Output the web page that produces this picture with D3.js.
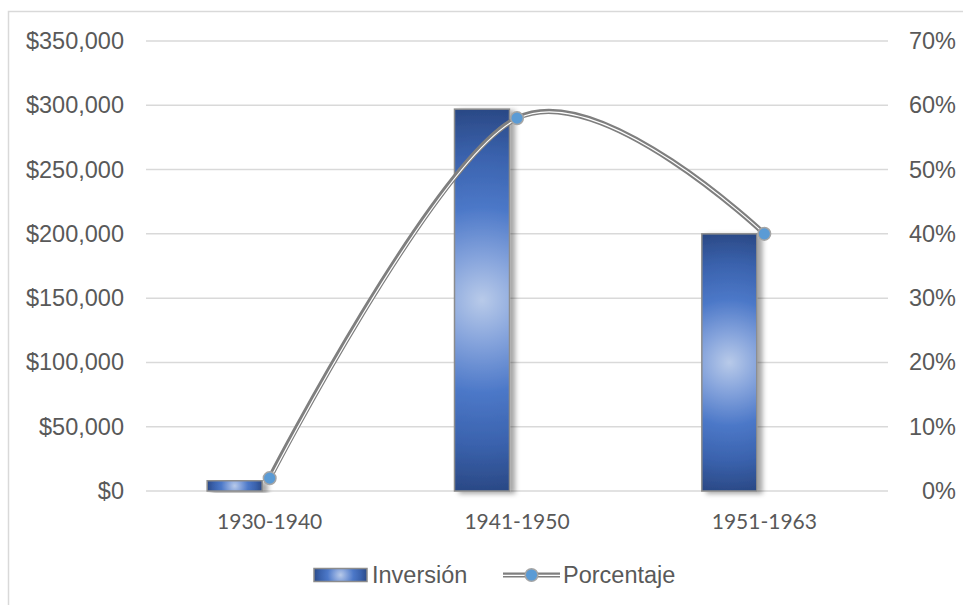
<!DOCTYPE html>
<html>
<head>
<meta charset="utf-8">
<script src="https://cdn.jsdelivr.net/npm/d3@7"></script>
<style>
  html, body { margin: 0; padding: 0; background: #fff; }
  svg { display: block; }
</style>
</head>
<body>
<svg id="chart" width="963" height="605"></svg>
<script>
// Inversión por período (eje izquierdo) y porcentaje del total (eje derecho)
const categories = ["1930-1940", "1941-1950", "1951-1963"];
const inversion = [8000, 297000, 200000];
const porcentaje = [0.02, 0.58, 0.40];
const leftTicks = [0, 50000, 100000, 150000, 200000, 250000, 300000, 350000];
const rightTicks = [0, 0.1, 0.2, 0.3, 0.4, 0.5, 0.6, 0.7];
const seriesNames = ["Inversión", "Porcentaje"];

const W = 963, H = 605;
const plot = { left: 146, right: 888, top: 41, bottom: 491 };
const barW = 55, barShift = -62.5;

const svg = d3.select("#chart");
const defs = svg.append("defs");

// soft shadow to the lower right of each bar
const sh = defs.append("filter").attr("id", "barShadow")
  .attr("x", "-20%").attr("y", "-5%").attr("width", "160%").attr("height", "115%");
sh.append("feGaussianBlur").attr("in", "SourceAlpha").attr("stdDeviation", 2.5).attr("result", "b");
sh.append("feOffset").attr("in", "b").attr("dx", 5).attr("dy", 2).attr("result", "o");
sh.append("feFlood").attr("flood-color", "#000").attr("flood-opacity", 0.35).attr("result", "c");
sh.append("feComposite").attr("in", "c").attr("in2", "o").attr("operator", "in").attr("result", "s");
const mg = sh.append("feMerge");
mg.append("feMergeNode").attr("in", "s");
mg.append("feMergeNode").attr("in", "SourceGraphic");

const gradStops = [
  [0, "#b8cae9"], [0.22, "#86a4dc"], [0.48, "#4c78c8"], [0.75, "#3a62ad"], [1, "#2a4884"]
];
function radial(id, x, y, w, h) {
  const g = defs.append("radialGradient").attr("id", id)
    .attr("gradientUnits", "userSpaceOnUse")
    .attr("cx", x + w / 2).attr("cy", y + h / 2)
    .attr("r", Math.sqrt(w * w + h * h) / 2);
  gradStops.forEach(s => g.append("stop").attr("offset", s[0]).attr("stop-color", s[1]));
  return `url(#${id})`;
}

// chart frame
svg.append("rect").attr("x", 8.5).attr("y", 11.5).attr("width", W).attr("height", H)
  .attr("fill", "none").attr("stroke", "#d9d9d9").attr("stroke-width", 1.5);

const x = d3.scaleBand().domain(categories).range([plot.left, plot.right]).padding(0);
const xc = c => x(c) + x.bandwidth() / 2;
const yL = d3.scaleLinear().domain([0, 350000]).range([plot.bottom, plot.top]);
const yR = d3.scaleLinear().domain([0, 0.7]).range([plot.bottom, plot.top]);

// gridlines
svg.append("g").selectAll("line").data(leftTicks).join("line")
  .attr("x1", plot.left).attr("x2", plot.right)
  .attr("y1", d => yL(d)).attr("y2", d => yL(d))
  .attr("stroke", "#d9d9d9").attr("stroke-width", 1.5);

const fmtL = v => "$" + d3.format(",")(v);
const fmtR = d3.format(".0%");

// left axis
const axL = svg.append("g").attr("transform", `translate(${plot.left},0)`)
  .call(d3.axisLeft(yL).tickValues(leftTicks).tickFormat(fmtL).tickSize(0).tickPadding(22));
axL.select(".domain").remove();
axL.selectAll("text").attr("font-family", "'Liberation Sans', Arial, sans-serif")
  .attr("font-size", 23.5).attr("fill", "#595959");

// right axis
const axR = svg.append("g").attr("transform", `translate(956,0)`)
  .call(d3.axisLeft(yR).tickValues(rightTicks).tickFormat(fmtR).tickSize(0).tickPadding(0));
axR.select(".domain").remove();
axR.selectAll("text").attr("font-family", "'Liberation Sans', Arial, sans-serif")
  .attr("font-size", 23.5).attr("fill", "#595959");

// category axis
const axX = svg.append("g").attr("transform", `translate(0,${plot.bottom})`)
  .call(d3.axisBottom(x).tickSize(0).tickPadding(23));
axX.select(".domain").remove();
axX.selectAll("text").attr("font-family", "Lato, 'Open Sans', sans-serif")
  .attr("font-size", 21).attr("fill", "#595959");

// bars
svg.append("g").selectAll("rect").data(categories).join("rect")
  .each(function (c, i) {
    const bx = xc(c) + barShift, by = yL(inversion[i]), bh = yL(0) - yL(inversion[i]);
    d3.select(this).attr("x", bx).attr("y", by).attr("width", barW).attr("height", bh)
      .attr("fill", radial("barGrad" + i, bx, by, barW, bh));
  })
  .attr("stroke", "#8c8c8c").attr("stroke-width", 1.5)
  .attr("filter", "url(#barShadow)");

// percentage line (smoothed, double stroke)
const pts = categories.map((c, i) => [xc(c), yR(porcentaje[i])]);
const line = d3.line().curve(d3.curveCatmullRom.alpha(0));
svg.append("path").attr("d", line(pts)).attr("fill", "none")
  .attr("stroke", "#7f7f7f").attr("stroke-width", 5.2).attr("stroke-linecap", "round");
svg.append("path").attr("d", line(pts)).attr("fill", "none")
  .attr("stroke", "#ffffff").attr("stroke-width", 1.2).attr("transform", "translate(0.6,0.6)");

svg.append("g").selectAll("circle").data(pts).join("circle")
  .attr("cx", d => d[0]).attr("cy", d => d[1]).attr("r", 6.3)
  .attr("fill", "#5b9bd5").attr("stroke", "#a5a5a5").attr("stroke-width", 1.5);

// legend
const lg = svg.append("g");
const ly = 575;
lg.append("rect").attr("x", 314).attr("y", ly - 6.5).attr("width", 53).attr("height", 13)
  .attr("fill", radial("legGrad", 314, ly - 6.5, 53, 13))
  .attr("stroke", "#8c8c8c").attr("stroke-width", 1.5);
lg.append("text").attr("x", 372).attr("y", ly).attr("dy", "0.36em")
  .attr("font-family", "'Liberation Sans', Arial, sans-serif").attr("font-size", 23.5)
  .attr("fill", "#595959").text(seriesNames[0]);
lg.append("line").attr("x1", 503).attr("x2", 560).attr("y1", ly).attr("y2", ly)
  .attr("stroke", "#7f7f7f").attr("stroke-width", 5.2);
lg.append("line").attr("x1", 503).attr("x2", 560).attr("y1", ly + 0.4).attr("y2", ly + 0.4)
  .attr("stroke", "#ffffff").attr("stroke-width", 1.2);
lg.append("circle").attr("cx", 531.5).attr("cy", ly).attr("r", 6.3)
  .attr("fill", "#5b9bd5").attr("stroke", "#a5a5a5").attr("stroke-width", 1.5);
lg.append("text").attr("x", 563).attr("y", ly).attr("dy", "0.36em")
  .attr("font-family", "'Liberation Sans', Arial, sans-serif").attr("font-size", 23.5)
  .attr("fill", "#595959").text(seriesNames[1]);
</script>
</body>
</html>
